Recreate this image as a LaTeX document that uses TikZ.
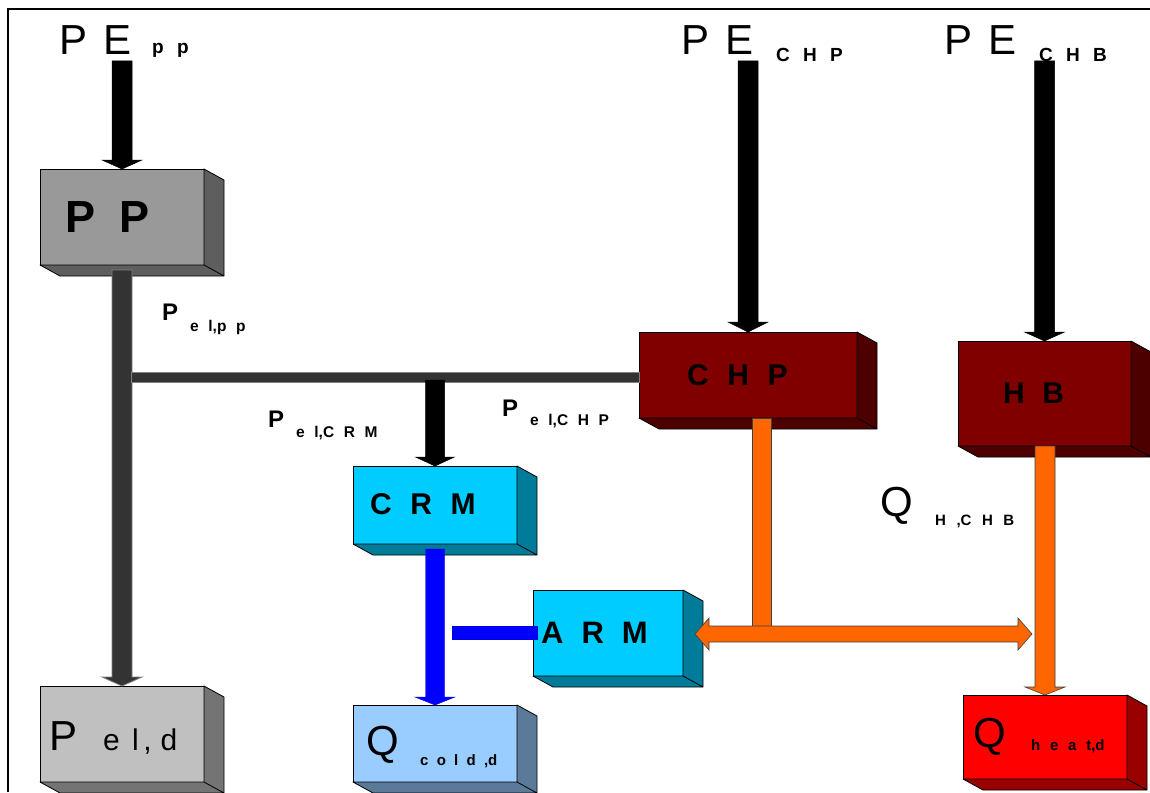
\documentclass[tikz,border=0pt]{standalone}
\usepackage{fontspec}
\setmainfont{Liberation Sans}
\usetikzlibrary{calc}

\definecolor{ppfront}{HTML}{999999}
\definecolor{ppside}{HTML}{5E5E5E}
\definecolor{pelfront}{HTML}{C0C0C0}
\definecolor{pelside}{HTML}{747474}
\definecolor{coolfront}{HTML}{00CCFF}
\definecolor{coolside}{HTML}{007B99}
\definecolor{coldfront}{HTML}{99CCFF}
\definecolor{coldside}{HTML}{5B7A99}
\definecolor{plantfront}{HTML}{800000}
\definecolor{plantside}{HTML}{4D0000}
\definecolor{heatfront}{HTML}{FF0000}
\definecolor{heatside}{HTML}{990000}
\definecolor{flowgray}{HTML}{333333}
\definecolor{heatorange}{HTML}{FF6600}

\tikzset{
  cube/.style={draw=black, line width=0.8pt, inner sep=0pt, outer sep=0pt},
  big/.style={font={\fontsize{42}{42}\selectfont\spaceskip=0.4em\relax}, inner sep=0pt, anchor=base west},
  boxtxt/.style={font={\fontsize{30}{30}\selectfont\bfseries\spaceskip=0.62em\relax}, inner sep=0pt, anchor=base west},
  sub/.style={font={\fontsize{19}{19}\selectfont\bfseries\spaceskip=0.7em\relax}, inner sep=0pt, anchor=base west},
  elP/.style={font={\fontsize{24}{24}\selectfont\bfseries}, inner sep=0pt, anchor=base west},
  elsub/.style={font={\fontsize{15.5}{16}\selectfont\bfseries\spaceskip=0.62em\relax}, inner sep=0pt, anchor=base west},
  blackflow/.style={fill=black, draw=black, line width=0.5pt},
  grayflow/.style={fill=flowgray, draw=black!50, line width=0.8pt},
  blueflow/.style={fill=blue, draw=blue!85!black, line width=0.4pt},
  orangeflow/.style={fill=heatorange, draw=black!75, line width=0.6pt}
}

% right and bottom faces of a box node, seen from below right
\newcommand\cubesides[2]{%
  \filldraw[fill=#2, draw=black, line width=0.8pt, line join=round]
    (#1.north east) -- ++(20,11) -- ($(#1.south east)+(20,11)$) -- (#1.south east) -- cycle
    (#1.south west) -- ++(20,11) -- ($(#1.south east)+(20,11)$) -- (#1.south east) -- cycle;}

% downward block arrow: style, source (gives y), target (gives x and tip), half shaft, half head, head length
\newcommand\vflow[6]{%
  \path[#1] let \p1=(#2), \p2=(#3) in
    (\x2-#4,\y1) -- (\x2+#4,\y1) -- (\x2+#4,\y2+#6) -- (\x2+#5,\y2+#6) -- (\x2,\y2)
    -- (\x2-#5,\y2+#6) -- (\x2-#4,\y2+#6) -- cycle;}

% horizontal double block arrow: style, left tip, right tip, half shaft, half head, head length
\newcommand\hdouble[6]{%
  \path[#1] let \p1=(#2), \p2=(#3) in
    (\x1,\y1) -- (\x1+#6,\y1+#5) -- (\x1+#6,\y1+#4) -- (\x2-#6,\y1+#4) -- (\x2-#6,\y1+#5)
    -- (\x2,\y1) -- (\x2-#6,\y1-#5) -- (\x2-#6,\y1-#4) -- (\x1+#6,\y1-#4) -- (\x1+#6,\y1-#5) -- cycle;}

\begin{document}
\begin{tikzpicture}[x=1pt, y=-1pt]
\useasboundingbox (0,0) rectangle (1150,792);
\fill[white] (0,0) rectangle (1150,792);

% frame
\draw[line width=2pt] (8,792) -- (8,9) -- (1150,9);

% boxes
\node[cube, fill=ppfront, minimum width=164pt, minimum height=96pt] (PP) at (122,217) {};
\cubesides{PP}{ppside}
\node[cube, fill=pelfront, minimum width=164pt, minimum height=96pt] (Pel) at (122,734) {};
\cubesides{Pel}{pelside}
\node[cube, fill=coolfront, minimum width=164pt, minimum height=78pt] (CRM) at (435,505) {};
\cubesides{CRM}{coolside}
\node[cube, fill=coolfront, minimum width=150pt, minimum height=86pt] (ARM) at (608,633) {};
\cubesides{ARM}{coolside}
\node[cube, fill=coldfront, minimum width=164pt, minimum height=77pt] (Qcold) at (435,743.5) {};
\cubesides{Qcold}{coldside}
\node[cube, fill=plantfront, minimum width=218pt, minimum height=86pt] (CHP) at (748,375) {};
\cubesides{CHP}{plantside}
\node[cube, fill=plantfront, minimum width=173pt, minimum height=105pt] (HB) at (1044.5,393.5) {};
\cubesides{HB}{plantside}
\node[cube, fill=heatfront, minimum width=164pt, minimum height=84pt] (Qheat) at (1045,737) {};
\cubesides{Qheat}{heatside}

% connector end points
\coordinate (ppin) at (121,61);
\coordinate (chpin) at (748,61);
\coordinate (hbin) at (1045,61);
\coordinate (ppout) at (121,270);
\coordinate (crmin) at (435,380);
\coordinate (crmout) at (435,549);
\coordinate (coldjoin) at (452,633);
\coordinate (chpout) at ($(CHP.south)+(13.5,0)$);
\coordinate (armtip) at ($(ARM.east)+(12,1)$);
\coordinate (heatjoin) at (1032,634);

% fuel inputs
\vflow{blackflow}{ppin}{PP.north}{10pt}{20pt}{9pt}
\vflow{blackflow}{chpin}{CHP.north}{10pt}{20pt}{10pt}
\vflow{blackflow}{hbin}{HB.north}{10pt}{20pt}{9pt}

% electricity
\vflow{grayflow}{ppout}{Pel.north}{10pt}{20pt}{9pt}
\path[grayflow] let \p1=(ppout), \p2=(CHP.west) in (\x1+10pt,\y2+3pt) rectangle (\x2,\y2-7pt);
\vflow{blackflow}{crmin}{CRM.north}{9.5pt}{19.5pt}{9pt}

% cooling
\vflow{blueflow}{crmout}{Qcold.north}{9.5pt}{20pt}{8pt}
\path[blueflow] let \p1=(coldjoin), \p2=(ARM.west) in (\x1,\y2+6.5pt) rectangle (\x2+4pt,\y2-6.5pt);

% heat
\path[orangeflow] let \p1=(chpout), \p2=(heatjoin) in (\x1-9.5pt,\y1) rectangle (\x1+9.5pt,\y2+8pt);
\vflow{orangeflow}{HB.south}{Qheat.north}{10pt}{20pt}{8pt}
\hdouble{orangeflow}{armtip}{heatjoin}{8pt}{16pt}{14pt}

% input labels
\node[big] (pepp) at (59,55) {P E};
\node[sub] (peppsub) at (152,53) {p p};
\node[big] (pechp) at (681,55) {P E};
\node[sub] (pechpsub) at (776,62) {C H P};
\node[big] (pechb) at (944,55) {P E};
\node[sub] (pechbsub) at (1039,62) {C H B};

% box texts
\node[boxtxt, font={\fontsize{45}{45}\selectfont\bfseries\spaceskip=0.53em\relax}] (ppT) at (65,232) {P P};
\node[boxtxt] (chpT) at (687,385) {C H P};
\node[boxtxt, font={\fontsize{30}{30}\selectfont\bfseries\spaceskip=0.58em\relax}] (hbT) at (1003,403) {H B};
\node[boxtxt] (crmT) at (370,514) {C R M};
\node[boxtxt, font={\fontsize{31}{31}\selectfont\bfseries\spaceskip=0.58em\relax}] (armT) at (541,643) {A R M};

\node[big] (pelP) at (49,750) {P};
\node[big, font={\fontsize{30}{30}\selectfont\spaceskip=0.41em\relax}] (pelsub) at (103,750) {e l\kern4.5pt,\kern9pt d};
\node[big] (qcoldQ) at (366,755) {Q};
\node[elsub, font={\fontsize{15}{15}\selectfont\bfseries\spaceskip=0.55em\relax}] (qcoldsub) at (420,765) {c o l d ,d};
\node[big] (qheatQ) at (973,747) {Q};
\node[elsub, font={\fontsize{15}{15}\selectfont\bfseries\spaceskip=0.65em\relax}] (qheatsub) at (1031,750) {h e a t,d};

% flow labels
\node[big] (qhQ) at (880,516) {Q};
\node[elsub, font={\fontsize{15}{15}\selectfont\bfseries\spaceskip=0.7em\relax}] (qhsub) at (935,525) {H ,C H B};
\node[elP] (pelppP) at (162,320) {P};
\node[elsub] (pelppsub) at (190,331) {e l,p p};
\node[elP] (pelcrmP) at (268,427) {P};
\node[elsub] (pelcrmsub) at (296,437) {e l,C R M};
\node[elP] (pelchpP) at (502,416) {P};
\node[elsub] (pelchpsub) at (530,425) {e l,C H P};
\end{tikzpicture}
\end{document}
